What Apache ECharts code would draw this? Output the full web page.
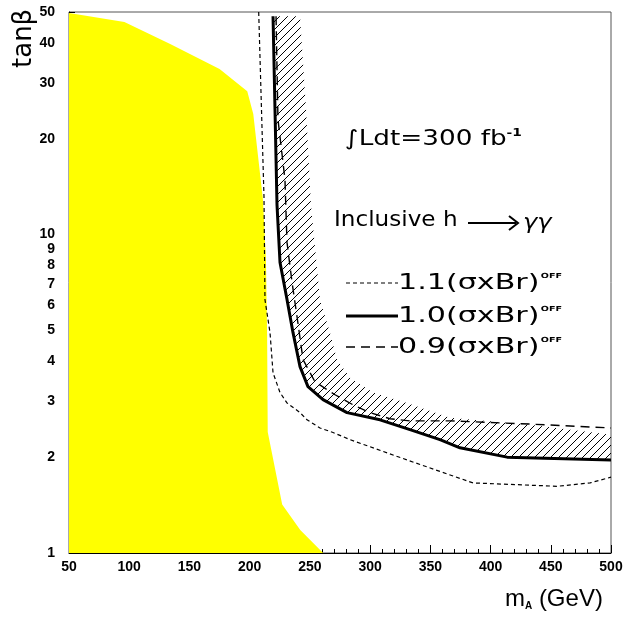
<!DOCTYPE html>
<html>
<head>
<meta charset="utf-8">
<script src="https://cdn.jsdelivr.net/npm/echarts@6/dist/echarts.min.js"></script>
<style>
  html, body { margin: 0; padding: 0; background: #fff; }
  #chart { width: 627px; height: 619px; }
</style>
</head>
<body>
<div id="chart"></div>
<script>
// Tick values on the tan(beta) axis
const tanTicks = [1, 2, 3, 4, 5, 6, 7, 8, 9, 10, 20, 30, 40, 50];

// Theoretically excluded region (filled), boundary points
const excludedMass = [50, 96, 134, 175, 198, 203, 211, 213.5, 214.5, 215, 227, 242, 261];
const excludedTan  = [49.6, 46.5, 39.7, 33.1, 28.2, 23.9, 12.9, 8.4, 4.8, 2.4, 1.42, 1.18, 1.0];

// 5-sigma contour, nominal (sigma x Br)
const nominalMass = [219.4, 222.7, 225.2, 231, 236, 241.8, 248.4, 260.9, 280.8, 308.2, 333.1, 358, 374.6, 413.7, 500];
const nominalTan  = [48.5, 12.4, 8.17, 6.25, 4.92, 3.85, 3.33, 3.03, 2.76, 2.62, 2.44, 2.27, 2.14, 2.00, 1.96];

// Contour with 1.1 x (sigma x Br)
const upMass = [207.5, 211.9, 212.7, 216.9, 219.4, 225.2, 231, 241.8, 247.6, 258.4, 269.2, 283.3, 330.6, 385.4, 455.2, 482.6, 500];
const upTan  = [50, 13.1, 6.25, 4.92, 3.68, 3.19, 2.96, 2.76, 2.62, 2.47, 2.39, 2.27, 1.96, 1.66, 1.62, 1.66, 1.73];

// Contour with 0.9 x (sigma x Br)
const downMass = [221.9, 223.5, 229.3, 231, 235.2, 239.3, 244.3, 254.2, 270.9, 285.8, 299.9, 316.5, 333.1, 366.3, 432.8, 500];
const downTan  = [48.5, 23.0, 14.9, 9.45, 7.07, 5.53, 4.05, 3.45, 3.14, 2.92, 2.76, 2.64, 2.60, 2.60, 2.54, 2.47];

// Outer edge of the hatched uncertainty band (inner edge is the nominal contour)
const bandMass = [241.8, 246.8, 250.9, 258.4, 266.7, 272.5, 283.3, 302.4, 330.6, 366.3, 432.8, 500];
const bandTan  = [48.5, 24.8, 12.4, 6.25, 4.92, 4.05, 3.55, 3.19, 2.96, 2.66, 2.53, 2.35];

const zip = (xs, ys) => xs.map((x, i) => [x, ys[i]]);

function hatchCanvas() {
  const s = 8;
  const c = document.createElement('canvas');
  c.width = s; c.height = s;
  const ctx = c.getContext('2d');
  ctx.strokeStyle = '#000';
  ctx.lineWidth = 1;
  ctx.beginPath();
  ctx.moveTo(0, s); ctx.lineTo(s, 0);
  ctx.moveTo(-2, 2); ctx.lineTo(2, -2);
  ctx.moveTo(s - 2, s + 2); ctx.lineTo(s + 2, s - 2);
  ctx.stroke();
  return c;
}

function polygonSeries(points, fill, z) {
  return {
    type: 'custom',
    coordinateSystem: 'cartesian2d',
    silent: true,
    clip: true,
    z: z,
    data: points,
    encode: { x: 0, y: 1 },
    renderItem: function (params, api) {
      if (params.dataIndex !== 0) return null;
      return {
        type: 'polygon',
        shape: { points: points.map(p => api.coord(p)) },
        style: { fill: fill, stroke: null }
      };
    }
  };
}

function contour(mass, tan, dash, width, z) {
  return {
    type: 'line',
    data: zip(mass, tan),
    symbol: 'none',
    silent: true,
    z: z,
    lineStyle: { color: '#000', width: width, type: dash, cap: 'butt' }
  };
}

const excludedPoly = zip(excludedMass, excludedTan).concat([[50, 1]]);
const bandPoly = zip(bandMass, bandTan).concat(zip(nominalMass, nominalTan).reverse());

const chart = echarts.init(document.getElementById('chart'), null, { renderer: 'canvas' });

const labelFont = { color: '#000', fontSize: 14, fontWeight: 'bold', fontFamily: 'Liberation Sans' };
const face = '"DejaVu Sans"';

function legendText(y, label) {
  return {
    type: 'text', x: 398, y: y, scaleX: 1.37,
    style: {
      text: label + '{sup|OFF}', font: '22px ' + face, fill: '#000', textVerticalAlign: 'middle',
      rich: { sup: { fontSize: 7, fontWeight: 'bold', fontFamily: 'DejaVu Sans', padding: [0, 0, 13, 1] } }
    }
  };
}

chart.setOption({
  animation: false,
  backgroundColor: '#fff',
  grid: { left: 69, top: 12, right: 16, bottom: 66, show: true, borderColor: '#555', borderWidth: 1, backgroundColor: 'transparent' },
  xAxis: {
    type: 'value', min: 50, max: 500, interval: 50,
    axisLine: { show: true, lineStyle: { color: '#000', width: 1 } },
    axisTick: { show: true, inside: true, length: 8, lineStyle: { color: '#000' } },
    minorTick: { show: true, splitNumber: 5, length: 4, lineStyle: { color: '#000' } },
    splitLine: { show: false },
    axisLabel: Object.assign({ margin: 7 }, labelFont)
  },
  yAxis: {
    type: 'log', logBase: 10, min: 1, max: 50,
    axisLine: { show: true, lineStyle: { color: '#000', width: 1 } },
    axisTick: { show: true, inside: true, length: 6, customValues: tanTicks, lineStyle: { color: '#000' } },
    splitLine: { show: false },
    axisLabel: Object.assign({ margin: 14, customValues: tanTicks }, labelFont)
  },
  series: [
    polygonSeries(excludedPoly, '#ffff00', 1),
    polygonSeries(bandPoly, { image: hatchCanvas(), repeat: 'repeat' }, 2),
    contour(upMass, upTan, [4, 3], 1.2, 3),
    contour(downMass, downTan, [9, 6], 1.4, 3),
    contour(nominalMass, nominalTan, 'solid', 3, 4)
  ],
  graphic: [
    // axis titles
    { type: 'text', x: 24, y: 68, rotation: Math.PI / 2,
      style: { text: 'tanβ', font: '26px ' + face, fill: '#000', textAlign: 'left', textVerticalAlign: 'middle' } },
    { type: 'text', x: 505, y: 587,
      style: { text: '{m|m}{s|A}{n| (GeV)}', fill: '#000',
        rich: {
          m: { fontSize: 24, fontFamily: 'Liberation Sans', fill: '#000' },
          s: { fontSize: 10, fontWeight: 'bold', fontFamily: 'Liberation Sans', fill: '#000', padding: [14, 0, 0, 0] },
          n: { fontSize: 24, fontFamily: 'Liberation Sans', fill: '#000' }
        } } },
    // luminosity
    { type: 'text', x: 345, y: 140, scaleX: 1.25,
      style: { text: '∫Ldt=300 fb{sup|-1}', font: '21px ' + face, fill: '#000', textVerticalAlign: 'middle',
        rich: { sup: { fontSize: 11, fontWeight: 'bold', fontFamily: 'DejaVu Sans', padding: [0, 0, 13, 0] } } } },
    // channel
    { type: 'text', x: 334, y: 221, scaleX: 1.1,
      style: { text: 'Inclusive h', font: '21px ' + face, fill: '#000', textVerticalAlign: 'middle' } },
    { type: 'line', shape: { x1: 468, y1: 223, x2: 516, y2: 223 }, style: { stroke: '#000', lineWidth: 2 } },
    { type: 'polyline', shape: { points: [[509, 216], [518, 223], [509, 230]] }, style: { stroke: '#000', lineWidth: 2, fill: null } },
    { type: 'text', x: 523, y: 223, scaleX: 1.1,
      style: { text: 'γγ', font: 'italic 22px ' + face, fill: '#000', textVerticalAlign: 'middle' } },
    // legend
    { type: 'line', shape: { x1: 346, y1: 283, x2: 398, y2: 283 }, style: { stroke: '#000', lineWidth: 1.2, lineDash: [4, 3] } },
    { type: 'line', shape: { x1: 346, y1: 316, x2: 398, y2: 316 }, style: { stroke: '#000', lineWidth: 3 } },
    { type: 'line', shape: { x1: 346, y1: 347, x2: 398, y2: 347 }, style: { stroke: '#000', lineWidth: 1.4, lineDash: [9, 6] } },
    legendText(283, '1.1(σxBr)'),
    legendText(316, '1.0(σxBr)'),
    legendText(347, '0.9(σxBr)')
  ]
});
</script>
</body>
</html>
